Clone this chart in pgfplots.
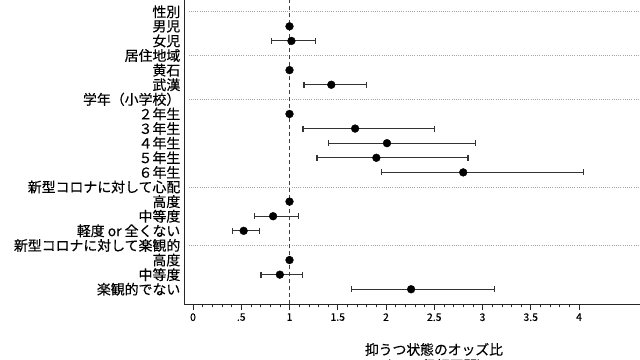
\documentclass[border=0pt]{standalone}
\usepackage{fontspec}
\setmainfont{Noto Sans CJK JP}[FakeBold=0.3]
\usepackage{pgfplots}
\pgfplotsset{compat=1.18}
\usepackage{pgfplotstable}

\pgfplotstableread{
y x
18 1.02
15 1.433
12 1.68
11 2.01
10 1.90
9 2.80
6 0.83
5 0.525
2 0.90
1 2.26
19 1
16 1
13 1
7 1
3 1
}\pointtable

\begin{document}
\begin{tikzpicture}
\clip (0,0) rectangle (640bp,-360bp);
\begin{axis}[
  at={(184bp,-304.3bp)}, anchor=south west,
  scale only axis, width=456bp, height=304.3bp,
  xmin=-0.0933, xmax=4.632, ymin=-0.03, ymax=20.801,
  axis x line*=bottom, axis y line*=left,
  axis line style={-, black!85, line width=0.6pt},
  tick align=outside,
  tick style={black!85, line width=0.6pt},
  xtick={0,0.5,1,1.5,2,2.5,3,3.5,4},
  xticklabels={0,.5,1,1.5,2,2.5,3,3.5,4},
  minor x tick num=4,
  major tick length=5.5bp, minor tick length=3bp,
  ytick style={draw=none},
  ytick={1,...,20},
  yticklabels={楽観的でない,中等度,高度,新型コロナに対して楽観的,軽度 or 全くない,中等度,高度,新型コロナに対して心配,６年生,５年生,４年生,３年生,２年生,学年（小学校）,武漢,黄石,居住地域,女児,男児,性別},
  yticklabel style={font=\fontsize{13.9bp}{14bp}\selectfont, inner xsep=0.5bp, xshift=2.5bp, text=black},
  xticklabel style={font=\fontsize{10.5}{12}\selectfont, text=black},
  /pgf/number format/assume math mode=true,
  clip=false,
  ci/.style={black!80, line width=1.1pt, mark=|, mark size=3bp, mark options={solid, black!80, line width=1.1pt}},
]
\foreach \yy in {4,8,14,17,20} {
  \edef\tmp{\noexpand\draw[gray!70, line width=0.5pt, dash pattern=on 0.6pt off 1.6pt] (axis cs:-0.045,\yy) -- (axis cs:4.632,\yy);}
  \tmp
}
\draw[black!75, line width=0.9pt, dash pattern=on 4bp off 3bp] (axis cs:1,-0.03) -- (axis cs:1,20.801);
\addplot[ci] coordinates {(0.815,18) (1.27,18)};
\addplot[ci] coordinates {(1.15,15) (1.80,15)};
\addplot[ci] coordinates {(1.14,12) (2.50,12)};
\addplot[ci] coordinates {(1.40,11) (2.93,11)};
\addplot[ci] coordinates {(1.285,10) (2.85,10)};
\addplot[ci] coordinates {(1.95,9) (4.05,9)};
\addplot[ci] coordinates {(0.635,6) (1.09,6)};
\addplot[ci] coordinates {(0.41,5) (0.687,5)};
\addplot[ci] coordinates {(0.705,2) (1.13,2)};
\addplot[ci] coordinates {(1.645,1) (3.12,1)};
\addplot[only marks, mark=*, mark size=3.9bp, black] table[x=x, y=y] {\pointtable};
\end{axis}
\node[font=\fontsize{13.8bp}{16bp}\selectfont, align=center, anchor=north] at (434bp,-339.5bp) {抑うつ状態のオッズ比\\(95\% 信頼区間)};
\end{tikzpicture}
\end{document}
